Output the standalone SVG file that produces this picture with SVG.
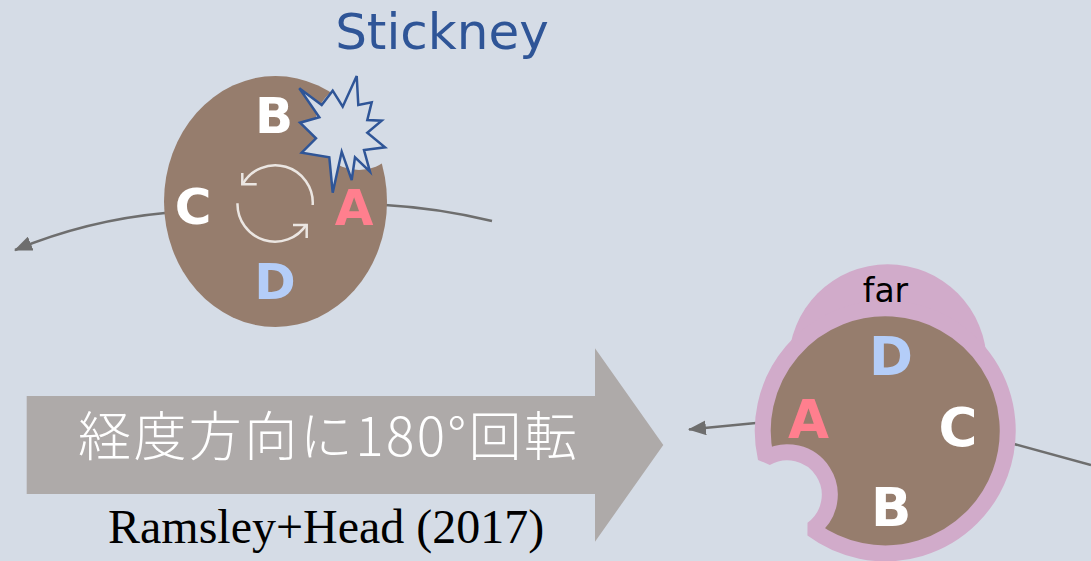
<svg xmlns="http://www.w3.org/2000/svg" width="1091" height="561" viewBox="0 0 1091 561">
  <style>
    .bg { fill: #d5dce6; }
    .body { fill: #967d6d; }
    .orbit { fill: none; stroke: #6e6e6e; stroke-width: 2.5; }
    .spin { fill: none; stroke: #ebe6e2; stroke-width: 2.5; stroke-linecap: butt; }
    .lbl { font-family: "DejaVu Sans", Verdana, sans-serif; font-weight: bold; text-anchor: middle; }
    .w { fill: #ffffff; }
    .a { fill: #ff7f8e; }
    .d { fill: #b4cdf8; }
  </style>
  <defs>
    <marker id="arrow" markerUnits="userSpaceOnUse" viewBox="0 0 18 15" refX="17" refY="7.5" markerWidth="18" markerHeight="15" orient="auto">
      <path d="M0,0 L18,7.5 L0,15 z" fill="#6e6e6e"/>
    </marker>
    <!-- ellipse with a crater bitten out of its upper right -->
    <mask id="bite" maskUnits="userSpaceOnUse" x="0" y="0" width="1091" height="561">
      <rect x="0" y="0" width="1091" height="561" fill="#fff"/>
      <circle cx="359" cy="126" r="44" fill="#000"/>
    </mask>
  </defs>

  <rect class="bg" x="0" y="0" width="1091" height="561"/>

  <!-- orbit connectors -->
  <g id="connectors">
    <path class="orbit" d="M165,213 Q88,220 15,250" marker-end="url(#arrow)"/>
    <path class="orbit" d="M385,205 Q438,208 492,221"/>
    <path class="orbit" d="M756,423 L689,429.5" marker-end="url(#arrow)"/>
    <path class="orbit" d="M1014,444 L1091,465"/>
  </g>

  <text x="442" y="49" font-family="DejaVu Sans, Verdana, sans-serif" font-size="50" fill="#2f5597" text-anchor="middle">Stickney</text>

  <!-- moon before rotation -->
  <g id="moon-before">
    <ellipse class="body" cx="275.5" cy="201.5" rx="111.5" ry="125.5" mask="url(#bite)"/>
    <polygon id="impact" fill="#d5dce6" stroke="#2f5597" stroke-width="2.5" stroke-linejoin="miter"
      points="356.7,76 358.3,105 371.7,102.3 367.3,120 381.7,120.7 367.3,132.7 385,147.3 364,150 370,171.7 355,157.3 351.7,180 341.7,151.7 332.7,192.7 329.3,157.3 301.7,152.7 316,138.3 300,122.7 319.3,117.3 299.3,88.3 321.7,105 332.7,90.7 342.7,106.7"/>
    <g id="spin-arrows">
      <path class="spin" d="M312.7,205 A37.5,37.5 0 0 0 242.5,184.5"/>
      <path class="spin" d="M242.3,173 L242.3,184.3 L256.7,184.3"/>
      <path class="spin" d="M237.5,203.3 A37.5,37.5 0 0 0 306.5,224.5"/>
      <path class="spin" d="M293,225 L306.7,225 L306.7,238"/>
    </g>
    <text class="lbl w" x="274" y="133" font-size="50">B</text>
    <text class="lbl w" x="193" y="224" font-size="50">C</text>
    <text class="lbl a" x="354" y="225" font-size="50">A</text>
    <text class="lbl d" x="275" y="299" font-size="50">D</text>
  </g>

  <!-- rotation arrow -->
  <g id="rotate-arrow">
    <polygon fill="#aeaaa9" points="26.7,396 595,396 595,348.3 663.3,445 595,541.7 595,494 26.7,494"/>
    <text x="78" y="456" font-family="Noto Sans CJK JP, sans-serif" font-weight="300" font-size="53" fill="#ffffff" textLength="499" lengthAdjust="spacing">経度方向に180°回転</text>
  </g>
  <text x="108" y="543" font-family="Liberation Serif, Times New Roman, serif" font-size="48" fill="#000000">Ramsley+Head (2017)</text>

  <!-- moon after rotation -->
  <g id="moon-after">
    <circle cx="887.7" cy="363.3" r="99" fill="#d1abca"/>
    <path class="body" stroke="#d1abca" stroke-width="16" stroke-linejoin="bevel"
      d="M765.8,458.1 A122.5,122.5 0 1 1 812.2,529.2 A42.5,42.5 0 0 0 765.8,458.1 Z"/>
    <text x="885.5" y="301.5" font-family="DejaVu Sans, Verdana, sans-serif" font-size="33" fill="#000000" text-anchor="middle">far</text>
    <text class="lbl d" x="891" y="375" font-size="53">D</text>
    <text class="lbl a" x="808.5" y="437.5" font-size="53">A</text>
    <text class="lbl w" x="958" y="446" font-size="53">C</text>
    <text class="lbl w" x="891.3" y="525.5" font-size="53">B</text>
  </g>
</svg>
